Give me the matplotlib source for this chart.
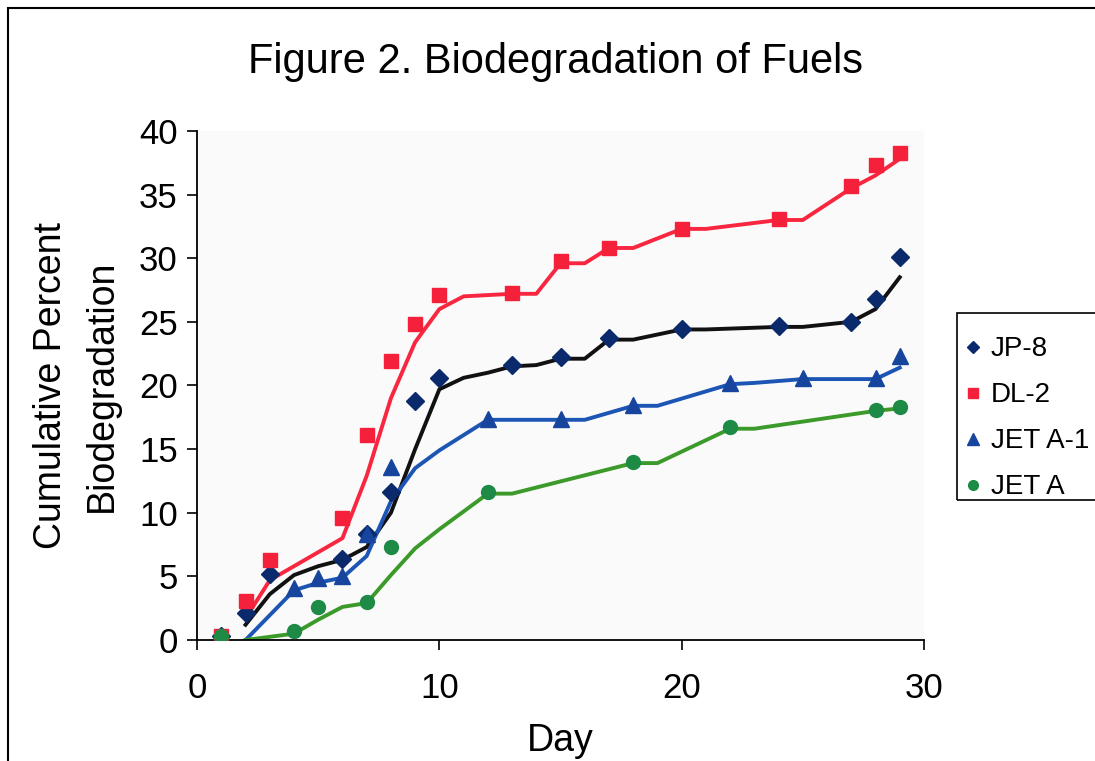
import matplotlib

matplotlib.use("Agg")
import matplotlib.pyplot as plt
from matplotlib.patches import Rectangle

plt.rcParams["font.family"] = ["Liberation Sans", "DejaVu Sans"]

# measured points (day, cumulative % biodegradation)
jp8_days = [1, 2, 3, 6, 7, 8, 9, 10, 13, 15, 17, 20, 24, 27, 28, 29]
jp8_vals = [0.3, 2.1, 5.2, 6.4, 8.3, 11.6, 18.8, 20.6, 21.6, 22.2, 23.7, 24.4, 24.7, 25.0, 26.8, 30.1]

dl2_days = [1, 2, 3, 6, 7, 8, 9, 10, 13, 15, 17, 20, 24, 27, 28, 29]
dl2_vals = [0.3, 3.1, 6.3, 9.6, 16.1, 21.9, 24.8, 27.1, 27.3, 29.8, 30.8, 32.3, 33.1, 35.7, 37.3, 38.3]

jeta1_days = [1, 4, 5, 6, 7, 8, 12, 15, 18, 22, 25, 28, 29]
jeta1_vals = [0.3, 4.1, 4.9, 5.0, 8.3, 13.6, 17.4, 17.4, 18.5, 20.2, 20.6, 20.6, 22.3]

jeta_days = [1, 4, 5, 7, 8, 12, 18, 22, 28, 29]
jeta_vals = [0.3, 0.7, 2.6, 3.0, 7.3, 11.6, 14.0, 16.7, 18.1, 18.3]

# smoothed trend lines
jp8_tr_days = [2, 3, 4, 5, 6, 7, 8, 9, 10, 11, 12, 13, 14, 15, 16, 17, 18, 20, 21, 24, 25, 27, 28, 29]
jp8_tr_vals = [1.2, 3.6, 5.1, 5.8, 6.3, 7.3, 10.0, 15.0, 19.7, 20.6, 21.0, 21.5, 21.6, 22.1, 22.1, 23.6, 23.6,
               24.4, 24.4, 24.6, 24.6, 25.0, 26.0, 28.5]

dl2_tr_days = [2, 3, 4, 5, 6, 7, 8, 9, 10, 11, 13, 14, 15, 16, 17, 18, 20, 21, 24, 25, 27, 28, 29]
dl2_tr_vals = [1.7, 4.7, 5.8, 6.9, 8.0, 12.9, 19.0, 23.4, 26.0, 27.0, 27.2, 27.2, 29.6, 29.6, 30.8, 30.8,
               32.3, 32.3, 33.0, 33.0, 35.5, 36.5, 37.8]

jeta1_tr_days = [2, 4, 5, 6, 7, 8, 9, 10, 12, 13, 15, 16, 18, 19, 22, 23, 25, 26, 28, 29]
jeta1_tr_vals = [0.0, 3.9, 4.5, 4.9, 6.6, 10.9, 13.5, 14.9, 17.3, 17.3, 17.3, 17.3, 18.4, 18.4, 20.1, 20.2,
                 20.5, 20.5, 20.5, 21.4]

jeta_tr_days = [2, 4, 5, 6, 7, 8, 9, 10, 12, 13, 18, 19, 22, 23, 28, 29]
jeta_tr_vals = [0.0, 0.5, 1.6, 2.6, 2.9, 5.1, 7.2, 8.7, 11.5, 11.5, 13.9, 13.9, 16.6, 16.6, 18.0, 18.2]

series = [
    ("JP-8", jp8_days, jp8_vals, jp8_tr_days, jp8_tr_vals, "D", "#0b2a6b", "#111111", 9),
    ("DL-2", dl2_days, dl2_vals, dl2_tr_days, dl2_tr_vals, "s", "#f5213b", "#f8263f", 10),
    ("JET A-1", jeta1_days, jeta1_vals, jeta1_tr_days, jeta1_tr_vals, "^", "#17449c", "#1c55b4", 11.5),
    ("JET A", jeta_days, jeta_vals, jeta_tr_days, jeta_tr_vals, "o", "#1d8a45", "#3b9a2a", 10),
]

fig = plt.figure(figsize=(10.95, 7.61), dpi=100)
ax = fig.add_axes([0.18, 0.159, 0.6638, 0.669])
ax.set_facecolor("#fafafa")

handles = []
for label, d, v, td, tv, mk, mcol, lcol, ms in series:
    ax.plot(td, tv, color=lcol, linewidth=2.8, zorder=2)
    h, = ax.plot(d, v, linestyle="none", marker=mk, markersize=ms, color=mcol,
                 markeredgecolor=mcol, zorder=3, label=label)
    handles.append(h)

ax.set_xlim(0, 30)
ax.set_ylim(0, 40)
ax.set_xticks([0, 10, 20, 30])
ax.set_yticks(range(0, 41, 5))
ax.tick_params(axis="both", labelsize=25, direction="out", length=7, width=1.2, color="black")
ax.tick_params(axis="x", pad=16)
ax.tick_params(axis="y", pad=7)
for side in ["top", "right"]:
    ax.spines[side].set_visible(False)
for side in ["left", "bottom"]:
    ax.spines[side].set_linewidth(1.3)
    ax.spines[side].set_color("black")

ax.set_xlabel("Day", fontsize=27, labelpad=13)
ax.set_ylabel("Cumulative Percent\nBiodegradation", fontsize=27, labelpad=14, linespacing=1.5)

fig.text(0.507, 0.918, "Figure 2. Biodegradation of Fuels", fontsize=30, ha="center", va="center")

# legend entries without their own frame; the box is drawn separately so it runs off the right edge
leg = fig.legend(handles=handles, loc="upper left", bbox_to_anchor=(0.882, 0.558),
                 bbox_transform=fig.transFigure, fontsize=20, frameon=False,
                 handlelength=0.55, handletextpad=0.35, labelspacing=0.72, borderpad=0,
                 borderaxespad=0, markerscale=0.7)
fig.add_artist(Rectangle((0.874, 0.343), 0.2, 0.2457, transform=fig.transFigure,
                         fill=False, edgecolor="black", linewidth=1.2))

# outer chart frame (left and top edges visible in the scan)
fig.add_artist(Rectangle((0.007, -0.05), 1.1, 1.0395, transform=fig.transFigure,
                         fill=False, edgecolor="black", linewidth=1.5))

fig.savefig("out.png", dpi=100)
